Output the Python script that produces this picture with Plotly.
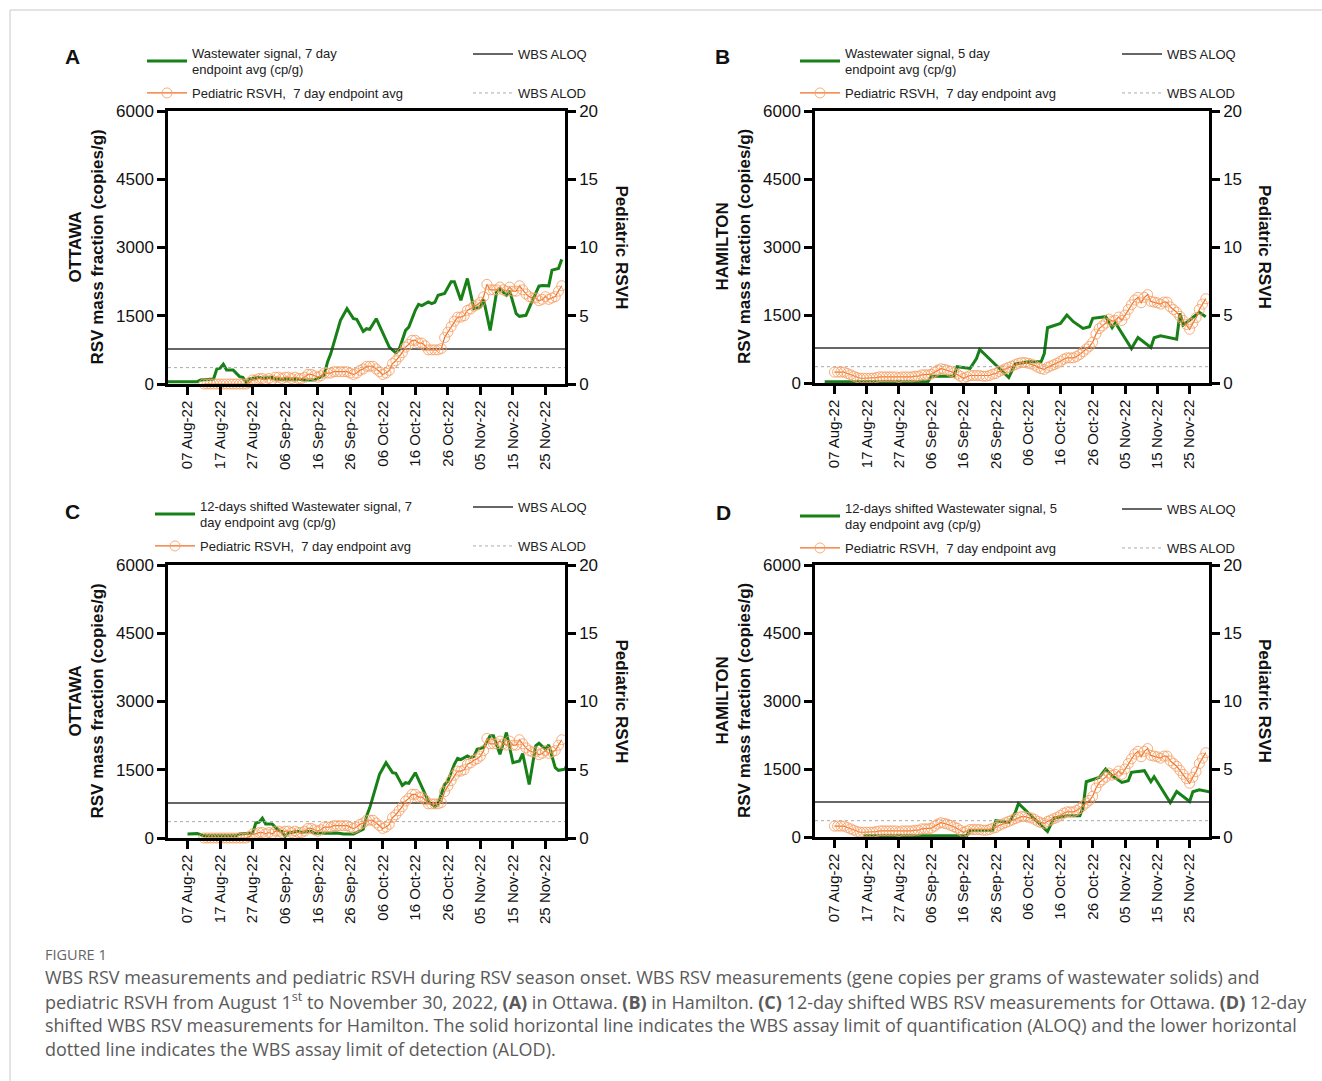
import pandas as pd
import plotly.graph_objects as go

W, H = 1322, 1081
START = pd.Timestamp("2022-08-01")
X_END = pd.Timestamp("2022-12-01")
SHIFT_DAYS = 12
ALOQ = 770
ALOD = 360
FONT = "Arial, Liberation Sans, sans-serif"

# ---- Ottawa wastewater signal (day offset from 01 Aug 2022, copies/g) ----
ottawa_ww_days = [-6, -3, -1, 9, 10, 13, 14, 15, 16, 17, 18, 20, 22, 23, 24, 25, 26, 28, 29, 31,
                  32, 33, 38, 40, 42, 45, 48, 49, 50, 53, 55, 57, 58, 60, 61, 62, 64, 66, 68, 70,
                  71, 73, 74, 76, 77, 78, 80, 81, 82, 83, 85, 87, 88, 90, 92, 93, 94, 96, 97, 99,
                  101, 102, 104, 105, 107, 108, 110, 112, 114, 115, 117, 118, 120, 121]
ottawa_ww_values = [90, 96, 52, 52, 90, 110, 110, 330, 346, 434, 309, 309, 162, 147, 37, 110, 118, 147, 125, 133,
                    147, 103, 103, 110, 88, 88, 191, 478, 663, 1399, 1656, 1436, 1421, 1156, 1215, 1200, 1436, 1104, 810, 685,
                    751, 1178, 1251, 1620, 1752, 1723, 1804, 1767, 1796, 1951, 1988, 2245, 2245, 1840, 2319, 1988, 1656, 1693, 1855, 1178,
                    2025, 2083, 1951, 2046, 1546, 1487, 1509, 1840, 2150, 2164, 2157, 2503, 2540, 2739]

# ---- Hamilton wastewater signal ----
hamilton_ww_days = [3, 35, 36, 43, 44, 48, 50, 51, 60, 62, 64, 66, 70, 71, 72, 76, 78, 80, 83, 85,
                    86, 90, 92, 93, 98, 100, 104, 105, 107, 112, 113, 114, 119, 121]
hamilton_ww_values = [30, 30, 150, 150, 360, 320, 540, 740, 120, 420, 440, 470, 470, 650, 1219, 1315, 1500, 1352, 1204, 1241,
                      1426, 1463, 1219, 1330, 760, 1004, 782, 997, 1041, 967, 1537, 1278, 1559, 1463]

# ---- Pediatric RSVH, 7 day endpoint avg (daily) ----
ottawa_rsvh_start = "2022-08-12"
ottawa_rsvh = [0.0, 0.0, 0.0, 0.0, 0.0, 0.0, 0.0, 0.0, 0.0, 0.0, 0.0, 0.0, 0.0, 0.0, 0.1,
               0.3, 0.3, 0.4, 0.4, 0.3, 0.4, 0.3, 0.5, 0.5, 0.4, 0.5, 0.5, 0.4, 0.5, 0.4,
               0.4, 0.5, 0.7, 0.7, 0.6, 0.5, 0.6, 0.8, 0.8, 0.8, 0.9, 0.9, 0.9, 0.9, 0.9,
               0.8, 0.7, 0.8, 1.0, 1.1, 1.3, 1.3, 1.3, 1.1, 0.9, 0.7, 0.8, 1.0, 1.5, 1.7,
               2.0, 2.3, 2.7, 2.9, 3.2, 3.2, 3.0, 3.0, 2.8, 2.5, 2.5, 2.5, 2.5, 2.6, 3.4,
               3.8, 4.2, 4.6, 4.9, 4.9, 5.0, 5.4, 5.5, 5.7, 5.8, 6.0, 6.4, 7.3, 6.9, 6.9,
               6.9, 7.1, 6.9, 6.8, 7.1, 6.8, 6.8, 7.2, 6.9, 6.6, 6.4, 6.3, 6.3, 6.1, 6.2,
               6.4, 6.2, 6.3, 6.4, 6.8, 7.2]
hamilton_rsvh_start = "2022-08-07"
hamilton_rsvh = [0.8, 0.8, 0.8, 0.8, 0.7, 0.6, 0.5, 0.4, 0.35, 0.35, 0.35, 0.35, 0.35, 0.4, 0.45,
                 0.45, 0.45, 0.45, 0.45, 0.45, 0.4, 0.45, 0.45, 0.45, 0.45, 0.5, 0.5, 0.6, 0.6, 0.6,
                 0.65, 0.8, 0.95, 1.05, 1.0, 0.95, 0.85, 0.75, 0.65, 0.5, 0.35, 0.45, 0.55, 0.55, 0.55,
                 0.55, 0.5, 0.5, 0.55, 0.65, 0.7, 0.85, 0.95, 1.05, 1.15, 1.25, 1.35, 1.45, 1.5, 1.5,
                 1.45, 1.4, 1.3, 1.15, 1.05, 1.0, 1.15, 1.25, 1.35, 1.45, 1.6, 1.75, 1.85, 1.85, 1.85,
                 1.95, 2.1, 2.3, 2.5, 2.7, 3.0, 3.6, 4.0, 4.2, 4.4, 4.7, 4.55, 4.6, 4.85, 4.6,
                 5.0, 5.4, 5.75, 6.1, 6.3, 5.9, 6.3, 6.5, 6.0, 5.95, 5.9, 5.8, 5.95, 5.95, 5.6,
                 5.4, 5.2, 4.9, 4.6, 4.3, 3.95, 4.4, 4.8, 5.4, 5.8, 6.2]

# ---- tick definitions ----
left_ticks = [0, 1500, 3000, 4500, 6000]
right_ticks = [0, 5, 10, 15, 20]
first_date_tick = "2022-08-07"

GREEN = "#178017"
ORANGE_LINE = "#f26d21"
ORANGE_MARK = "rgba(246,160,100,0.85)"


def fx(px):
    return px / W


def fy(py):
    return 1 - py / H


def dates_from_days(days, shift=0):
    return [START + pd.Timedelta(days=d + shift) for d in days]


panels = [
    dict(letter="A", box=(168, 111, 565, 384), city="OTTAWA",
         ww_days=ottawa_ww_days, ww_vals=ottawa_ww_values, shift=0,
         rsvh_start=ottawa_rsvh_start, rsvh=ottawa_rsvh,
         ww_name="Wastewater signal, 7 day<br>endpoint avg (cp/g)",
         leg=(142, 61, 93, 468, 54, 93), letter_pos=(72, 57)),
    dict(letter="B", box=(815, 111, 1209, 383), city="HAMILTON",
         ww_days=hamilton_ww_days, ww_vals=hamilton_ww_values, shift=0,
         rsvh_start=hamilton_rsvh_start, rsvh=hamilton_rsvh,
         ww_name="Wastewater signal, 5 day<br>endpoint avg (cp/g)",
         leg=(795, 61, 93, 1117, 54, 93), letter_pos=(722, 57)),
    dict(letter="C", box=(168, 565, 565, 838), city="OTTAWA",
         ww_days=ottawa_ww_days, ww_vals=ottawa_ww_values, shift=SHIFT_DAYS,
         rsvh_start=ottawa_rsvh_start, rsvh=ottawa_rsvh,
         ww_name="12-days shifted Wastewater signal, 7<br>day endpoint avg (cp/g)",
         leg=(150, 514, 546, 468, 507, 546), letter_pos=(72, 511)),
    dict(letter="D", box=(815, 565, 1209, 837), city="HAMILTON",
         ww_days=hamilton_ww_days, ww_vals=hamilton_ww_values, shift=SHIFT_DAYS,
         rsvh_start=hamilton_rsvh_start, rsvh=hamilton_rsvh,
         ww_name="12-days shifted Wastewater signal, 5<br>day endpoint avg (cp/g)",
         leg=(795, 516, 548, 1117, 509, 548), letter_pos=(723, 512)),
]

fig = go.Figure()
layout = dict(width=W, height=H, margin=dict(l=0, r=0, t=0, b=0, autoexpand=False),
              paper_bgcolor="white", plot_bgcolor="white",
              font=dict(family=FONT, color="#111"), showlegend=True)
annotations = []
shapes = []

axis_common = dict(showline=True, linecolor="black", linewidth=2.5, ticks="outside",
                   ticklen=8, tickwidth=2.5, tickcolor="black", showgrid=False, zeroline=False,
                   automargin=False,
                   tickfont=dict(family=FONT, size=17, color="#111"))

legend_index = 0
for i, p in enumerate(panels):
    n = i + 1
    xa = "x" if n == 1 else f"x{n}"
    yl_n = 2 * i + 1
    yr_n = 2 * i + 2
    yl = "y" if yl_n == 1 else f"y{yl_n}"
    yr = f"y{yr_n}"
    l, t, r, b = p["box"]

    layout["xaxis" if n == 1 else f"xaxis{n}"] = dict(
        domain=[fx(l), fx(r)], anchor=yl, type="date",
        range=[START, X_END], tickmode="linear", tick0=first_date_tick, dtick=10 * 86400000,
        tickformat="%d %b-%y", tickangle=-90, mirror=True,
        **{k: v for k, v in axis_common.items() if k != "tickfont"},
        tickfont=dict(family=FONT, size=15, color="#111"))
    layout["yaxis" if yl_n == 1 else f"yaxis{yl_n}"] = dict(
        domain=[fy(b), fy(t)], anchor=xa, range=[0, 6000], tickmode="array",
        tickvals=left_ticks, **axis_common)
    layout[f"yaxis{yr_n}"] = dict(
        overlaying=yl, side="right", anchor=xa, range=[0, 20], tickmode="array",
        tickvals=right_ticks, **axis_common)

    lg = [f"legend{'' if legend_index + k == 0 else legend_index + k + 1}" for k in range(4)]
    legend_index += 4
    gx, gy, oy, qx, qy, dy = p["leg"]
    leg_pos = [(gx, gy), (gx, oy), (qx, qy), (qx, dy)]
    for name, (lx, ly) in zip(lg, leg_pos):
        layout[name] = dict(
            x=fx(lx), y=fy(ly), xanchor="left", yanchor="middle", bgcolor="rgba(0,0,0,0)",
            borderwidth=0, itemwidth=40, font=dict(family=FONT, size=13, color="#222"))

    ww_x = dates_from_days(p["ww_days"], p["shift"])
    fig.add_trace(go.Scatter(x=ww_x, y=p["ww_vals"], xaxis=xa, yaxis=yl, mode="lines",
                             line=dict(color=GREEN, width=3), name=p["ww_name"], legend=lg[0]))
    rs_x = pd.date_range(p["rsvh_start"], periods=len(p["rsvh"]), freq="D")
    fig.add_trace(go.Scatter(x=rs_x, y=p["rsvh"], xaxis=xa, yaxis=yr, mode="lines+markers",
                             line=dict(color=ORANGE_LINE, width=1.2),
                             marker=dict(symbol="circle-open", size=10, color=ORANGE_MARK,
                                         line=dict(width=1)),
                             cliponaxis=False,
                             name="Pediatric RSVH,\u00a0 7 day endpoint avg", legend=lg[1]))
    fig.add_trace(go.Scatter(x=[START, X_END], y=[ALOQ, ALOQ], xaxis=xa, yaxis=yl, mode="lines",
                             line=dict(color="#333", width=1.5), name="WBS ALOQ", legend=lg[2]))
    fig.add_trace(go.Scatter(x=[START, X_END], y=[ALOD, ALOD], xaxis=xa, yaxis=yl, mode="lines",
                             line=dict(color="#aaa", width=1, dash="dot"), name="WBS ALOD",
                             legend=lg[3]))

    lx, ly = p["letter_pos"]
    annotations.append(dict(x=fx(lx), y=fy(ly), xref="paper", yref="paper", text=f"<b>{p['letter']}</b>",
                            showarrow=False, xanchor="center", yanchor="middle",
                            font=dict(family=FONT, size=21, color="#111")))
    cy = (t + b) / 2
    annotations.append(dict(x=fx(l - 82), y=fy(cy), xref="paper", yref="paper",
                            text=f"<b>{p['city']}</b><br><b>RSV mass fraction (copies/g)</b>",
                            textangle=-90, showarrow=False, xanchor="center", yanchor="middle",
                            font=dict(family=FONT, size=17, color="#111")))
    annotations.append(dict(x=fx(r + 56), y=fy(cy), xref="paper", yref="paper",
                            text="<b>Pediatric RSVH</b>", textangle=90, showarrow=False,
                            xanchor="center", yanchor="middle",
                            font=dict(family=FONT, size=17, color="#111")))

caption_lines = [
    "WBS RSV measurements and pediatric RSVH during RSV season onset. WBS RSV measurements (gene copies per grams of wastewater solids) and",
    "pediatric RSVH from August 1<sup>st</sup> to November 30, 2022, <b>(A)</b> in Ottawa. <b>(B)</b> in Hamilton. <b>(C)</b> 12-day shifted WBS RSV measurements for Ottawa. <b>(D)</b> 12-day",
    "shifted WBS RSV measurements for Hamilton. The solid horizontal line indicates the WBS assay limit of quantification (ALOQ) and the lower horizontal",
    "dotted line indicates the WBS assay limit of detection (ALOD).",
]
annotations.append(dict(x=fx(43), y=fy(954), xref="paper", yref="paper", text="FIGURE 1",
                        showarrow=False, xanchor="left", yanchor="middle",
                        font=dict(family="Open Sans, sans-serif", size=14.5, color="#666")))
for k, line in enumerate(caption_lines):
    annotations.append(dict(x=fx(43), y=fy(977 + 24 * k), xref="paper", yref="paper", text=line,
                            showarrow=False, xanchor="left", yanchor="middle",
                            font=dict(family="Open Sans, sans-serif", size=18, color="#5a5a5a")))

shapes.append(dict(type="line", xref="paper", yref="paper", x0=fx(10), x1=1, y0=fy(10), y1=fy(10),
                   line=dict(color="#c8c8c8", width=1)))
shapes.append(dict(type="line", xref="paper", yref="paper", x0=fx(10), x1=fx(10), y0=fy(10), y1=0,
                   line=dict(color="#c8c8c8", width=1)))

layout["annotations"] = annotations
layout["shapes"] = shapes
fig.update_layout(**layout)
fig.write_html(
    "out.html", config={"displayModeBar": False},
    post_script=("document.body.style.margin='0';document.body.style.overflow='hidden';"
                 "var gd=document.getElementById('{plot_id}');gd.style.position='fixed';"
                 "gd.style.top='0px';gd.style.left='0px';"))
